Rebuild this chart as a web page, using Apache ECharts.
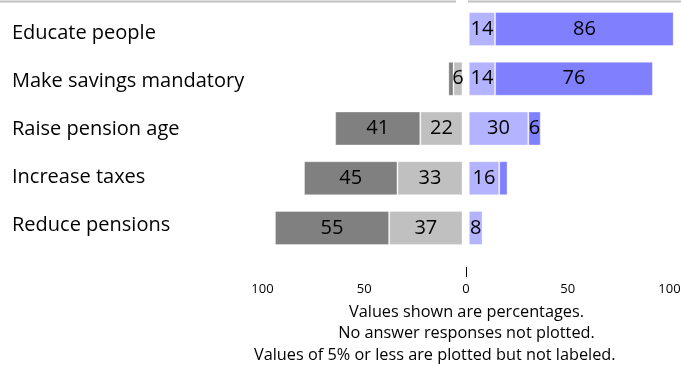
<!DOCTYPE html>
<html><head><meta charset="utf-8">
<script src="https://cdn.jsdelivr.net/npm/echarts@6/dist/echarts.min.js"></script>
<style>html,body{margin:0;padding:0;background:#fff}#c{width:681px;height:367px}</style>
</head><body><div id="c"></div>
<script>
const categories = ['Educate people','Make savings mandatory','Raise pension age','Increase taxes','Reduce pensions'];
const stronglyDisagree = [0, 2.5, 41, 45, 55];
const disagree = [0, 6, 22, 33, 37];
const agree = [14, 14, 30, 16, 8];
const stronglyAgree = [86, 76, 6, 4, 0];
const tickValues = [-100, -50, 0, 50, 100];
const footnotes = ['Values shown are percentages.','No answer responses not plotted.','Values of 5% or less are plotted but not labeled.'];

const FONT = 'Open Sans';
const colors = {sd:'#808080', d:'#c0c0c0', a:'#b3b3ff', sa:'#8080ff'};
// geometry
const Xmin = 258.3, Xmax = 673.7, Xzero = (Xmin+Xmax)/2;
const pxPer = (Xmax-Xmin)/200;
const leftEdge = 462, rightStart = 469.3;
const gridTop = 4.2, rowsH = 248.6;

const lbl = {show:true, color:'#000', fontFamily:FONT, fontSize:20,
  formatter: p => Math.abs(p.value) > 5 ? String(Math.round(Math.abs(p.value))) : ''};
function bar(name, data, gi, stack, color){
  return {type:'bar', name, data, xAxisIndex:gi, yAxisIndex:gi, stack, barWidth:34, clip:true,
    itemStyle:{color, borderColor:'rgba(255,255,255,0.35)', borderWidth:1}, label:lbl, silent:true};
}
const chart = echarts.init(document.getElementById('c'), null, {renderer:'canvas'});
chart.setOption({
  animation:false,
  grid:[
    {left:Xmin, width:leftEdge-Xmin, top:gridTop, height:rowsH, outerBoundsMode:'none'},
    {left:rightStart, width:Xmax-rightStart, top:gridTop, height:rowsH, outerBoundsMode:'none'},
    {left:262.5, width:407, top:gridTop, height:268-gridTop, outerBoundsMode:'none'},
    {left:Xmin, width:10, top:9, height:240, outerBoundsMode:'none'}
  ],
  xAxis:[
    {gridIndex:0, type:'value', min:-100, max:-(Xzero-leftEdge)/pxPer, show:false},
    {gridIndex:1, type:'value', min:(rightStart-Xzero)/pxPer, max:100, show:false},
    {gridIndex:2, type:'value', min:tickValues[0], max:tickValues[tickValues.length-1], interval:50,
      axisLine:{show:false}, axisTick:{show:false}, splitLine:{show:false},
      axisLabel:{show:true, margin:15, fontFamily:FONT, fontSize:13, color:'#000', formatter:v=>String(Math.abs(v))}},
    {gridIndex:3, type:'value', min:0, max:1, show:false}
  ],
  yAxis:[
    {gridIndex:0, type:'category', data:categories, inverse:true, show:false},
    {gridIndex:1, type:'category', data:categories, inverse:true, show:false},
    {gridIndex:2, type:'value', min:0, max:1, show:false},
    {gridIndex:3, type:'category', data:categories, inverse:true,
      axisLine:{show:false}, axisTick:{show:false}, splitLine:{show:false},
      axisLabel:{align:'left', margin:Xmin-12, fontFamily:FONT, fontSize:20, color:'#000'}}
  ],
  series:[
    bar('Disagree', disagree.map(v=>-v), 0, 'L', colors.d),
    bar('Strongly disagree', stronglyDisagree.map(v=>-v), 0, 'L', colors.sd),
    bar('Agree', agree, 1, 'R', colors.a),
    bar('Strongly agree', stronglyAgree, 1, 'R', colors.sa)
  ],
  graphic:[
    {type:'line', shape:{x1:0,y1:1.5,x2:456,y2:1.5}, style:{stroke:'#c0c0c0', lineWidth:2}},
    {type:'line', shape:{x1:468,y1:1.5,x2:681,y2:1.5}, style:{stroke:'#c0c0c0', lineWidth:2}},
    {type:'line', shape:{x1:466.5,y1:267,x2:466.5,y2:277}, style:{stroke:'#000', lineWidth:1}},
    {type:'text', x:466.5, y:312, style:{text:footnotes[0], fontFamily:FONT, fontSize:16.3, fill:'#000', textAlign:'center', textVerticalAlign:'middle'}},
    {type:'text', x:466.5, y:333, style:{text:footnotes[1], fontFamily:FONT, fontSize:16.3, fill:'#000', textAlign:'center', textVerticalAlign:'middle'}},
    {type:'text', x:254, y:355, style:{text:footnotes[2], fontFamily:FONT, fontSize:16.3, fill:'#000', textAlign:'left', textVerticalAlign:'middle'}}
  ]
});
</script></body></html>
